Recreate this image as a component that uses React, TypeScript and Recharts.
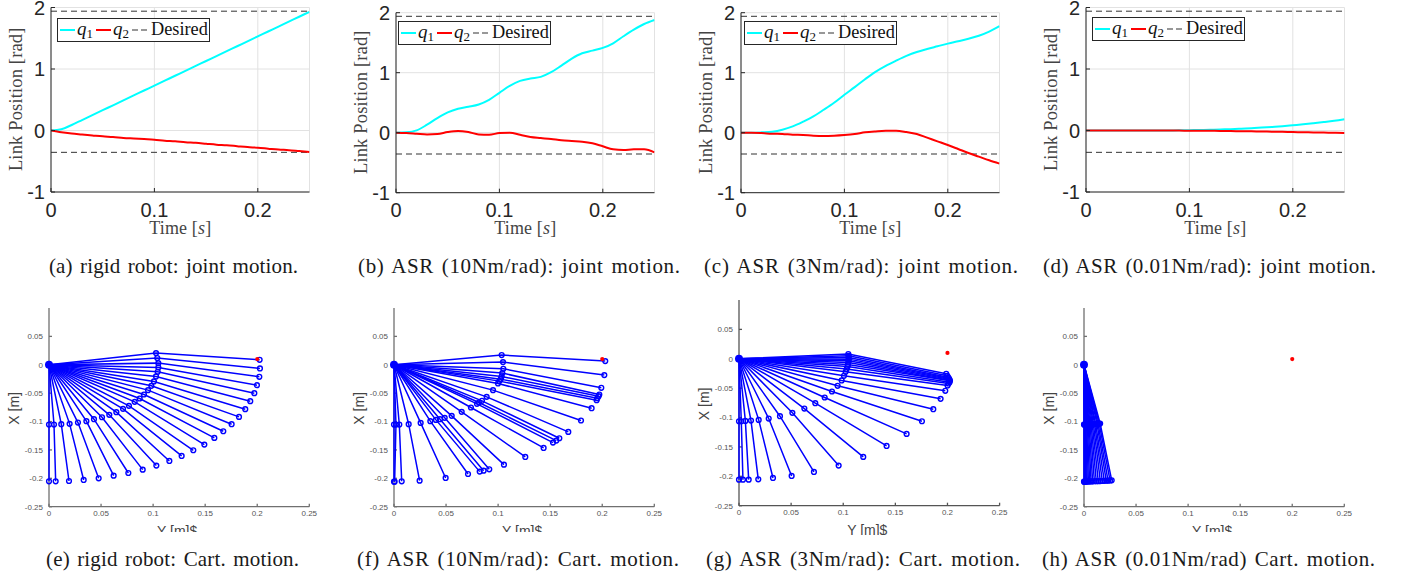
import React from "react";
import {
  LineChart, Line, XAxis, YAxis, CartesianGrid, ReferenceLine, Legend,
  ScatterChart, Scatter,
} from "recharts";

const time = [0, .01, .02, .03, .04, .05, .06, .07, .08, .09, .1, .11, .12, .13, .14, .15, .16, .17, .18, .19, .2, .21, .22, .23, .24, .25];
const desiredQ1 = 1.94;
const desiredQ2 = -0.355;

const aQ1 = [0, .02, .09, .17, .25, .33, .41, .49, .57, .65, .73, .81, .89, .97, 1.05, 1.13, 1.21, 1.29, 1.37, 1.45, 1.53, 1.61, 1.69, 1.77, 1.85, 1.93];
const aQ2 = [0, -.03, -.05, -.065, -.08, -.095, -.105, -.12, -.13, -.14, -.15, -.165, -.175, -.19, -.2, -.215, -.23, -.24, -.255, -.27, -.28, -.295, -.31, -.32, -.335, -.35];
const bQ1 = [0, .006, .039, .133, .244, .338, .399, .432, .471, .548, .665, .781, .864, .903, .93, 1.008, 1.119, 1.235, 1.324, 1.368, 1.413, 1.49, 1.607, 1.717, 1.812, 1.878];
const bQ2 = [0, -.006, -.017, -.028, -.022, .011, .028, .011, -.028, -.033, -.006, 0, -.033, -.072, -.089, -.105, -.127, -.139, -.15, -.177, -.227, -.277, -.288, -.277, -.277, -.327];
const cQ1 = [0, 0, .006, .017, .05, .105, .183, .271, .382, .499, .632, .759, .892, 1.014, 1.114, 1.2, 1.28, 1.345, 1.395, 1.44, 1.485, 1.525, 1.565, 1.615, 1.685, 1.775];
const cQ2 = [0, 0, -.006, -.017, -.022, -.033, -.039, -.05, -.055, -.05, -.039, -.022, .006, .022, .033, .033, .011, -.022, -.083, -.144, -.205, -.271, -.338, -.399, -.46, -.515];
const dQ1 = [0, 0, 0, 0, 0, 0, 0, 0, .001, .003, .005, .008, .012, .017, .022, .03, .038, .047, .058, .07, .085, .1, .118, .137, .158, .184];
const dQ2 = [0, 0, 0, 0, 0, 0, 0, 0, -.001, -.002, -.003, -.004, -.005, -.007, -.009, -.012, -.014, -.017, -.019, -.022, -.025, -.028, -.031, -.034, -.037, -.042];

const eElbowX = [.1028, .104, .105, .105, .1044, .1028, .1008, .0983, .0951, .0912, .0871, .0823, .0768, .0711, .0647, .0579, .0509, .0432, .0359, .0278, .0198, .0118, .0048, 0];
const eElbowY = [.0206, .0118, .0029, -.0047, -.0124, -.0206, -.0294, -.0371, -.0447, -.0524, -.0594, -.0653, -.0724, -.0776, -.0835, -.0882, -.0924, -.0959, -.0994, -.1018, -.1041, -.1047, -.1053, -.1053];
const eEndX = [.2023, .2026, .202, .1997, .1972, .1933, .1885, .1825, .1754, .1674, .1588, .1492, .1386, .1274, .1156, .1031, .09, .0762, .0621, .0477, .0333, .0192, .0064, 0];
const eEndY = [.0088, -.0065, -.0212, -.0359, -.05, -.0641, -.0782, -.0918, -.1047, -.1171, -.1288, -.1406, -.1506, -.1606, -.1694, -.1776, -.1847, -.1906, -.1953, -.2, -.2029, -.2047, -.2053, -.2053];

const fElbowX = [.1034, .1047, .105, .104, .1034, .1024, .1012, .0999, .0951, .089, .0845, .0816, .0797, .0739, .065, .0554, .0487, .0442, .0403, .0349, .0256, .0141, .0051, .0019, 0];
const fElbowY = [.0171, .0047, -.0071, -.0147, -.0206, -.0253, -.0288, -.0329, -.0447, -.0565, -.0635, -.0665, -.0688, -.0753, -.0829, -.09, -.0935, -.0959, -.0971, -.0994, -.1024, -.1047, -.1053, -.1053, -.1053];
const fEndX = [.2029, .202, .1991, .1972, .1965, .1953, .1946, .1898, .1796, .1674, .1588, .1559, .1527, .1437, .1261, .1056, .0915, .0861, .0823, .0711, .0496, .0246, .0074, .0006, 0];
const fEndY = [.0065, -.0182, -.0406, -.0524, -.0553, -.0588, -.0624, -.0765, -.0982, -.1182, -.1294, -.1335, -.1371, -.1465, -.1624, -.1759, -.1841, -.1865, -.1882, -.1924, -.1994, -.2041, -.2053, -.2059, -.2059];

const gElbowX = [.1049, .1052, .1052, .1052, .1052, .1049, .1045, .1042, .1033, .1023, .1007, .0985, .0946, .0892, .0822, .0732, .0627, .0512, .0393, .0285, .0189, .0115, .0061, .0022, 0];
const gElbowY = [.008, .0051, .0023, -.0006, -.0034, -.0063, -.0097, -.0131, -.0176, -.0222, -.029, -.0369, -.046, -.0557, -.0659, -.0756, -.0847, -.092, -.0977, -.1017, -.104, -.1051, -.1057, -.1063, -.1063];
const gEndX = [.1988, .1998, .2004, .2011, .2017, .202, .2024, .202, .2011, .2001, .1979, .1934, .1864, .1755, .1608, .1416, .1192, .0956, .0719, .0505, .0326, .0185, .0093, .0038, 0];
const gEndY = [-.0256, -.029, -.0313, -.033, -.0347, -.0364, -.0375, -.0398, -.042, -.0455, -.0545, -.0682, -.0858, -.1063, -.1278, -.1483, -.167, -.1818, -.1926, -.1994, -.2028, -.2051, -.2057, -.2057, -.2057];

const hElbowX = [.0155, .0146, .0135, .0125, .0112, .0102, .009, .0079, .0068, .0058, .0048, .004, .0032, .0025, .0018, .0013, .0008, .0005, .0002, 0];
const hElbowY = [-.1035, -.1037, -.1039, -.1041, -.1043, -.1045, -.1046, -.1047, -.1048, -.1049, -.105, -.1051, -.1051, -.1052, -.1052, -.1052, -.1053, -.1053, -.1053, -.1053];
const hEndX = [.0266, .025, .0231, .0214, .0195, .0176, .0157, .0137, .0118, .01, .0083, .0068, .0054, .0042, .0031, .0022, .0014, .0008, .0003, 0];
const hEndY = [-.2035, -.2038, -.2041, -.2043, -.2045, -.2047, -.2049, -.205, -.2051, -.2052, -.2053, -.2054, -.2055, -.2056, -.2057, -.2057, -.2058, -.2058, -.2059, -.2059];

const goalX = 0.2;
const goalY = 0.01;
const baseX = 0;
const baseY = 0;

const jointTicksX = [0, .1, .2];
const jointTicksY = [-1, 0, 1, 2];
const cartTicksX = [0, .05, .1, .15, .2, .25];
const cartTicksY = [-.25, -.2, -.15, -.1, -.05, 0, .05];

const captions = [
  { t: "(a) rigid robot: joint motion.", x: 49, w: 249, y: 273 },
  { t: "(b) ASR (10Nm/rad): joint motion.", x: 358, w: 322, y: 273 },
  { t: "(c) ASR (3Nm/rad): joint motion.", x: 704, w: 314, y: 273 },
  { t: "(d) ASR (0.01Nm/rad): joint motion.", x: 1043, w: 333, y: 273 },
  { t: "(e) rigid robot: Cart. motion.", x: 46, w: 253, y: 566 },
  { t: "(f) ASR (10Nm/rad): Cart. motion.", x: 357, w: 322, y: 566 },
  { t: "(g) ASR (3Nm/rad): Cart. motion.", x: 706, w: 314, y: 566 },
  { t: "(h) ASR (0.01Nm/rad) Cart. motion.", x: 1042, w: 333, y: 566 },
];

const SERIF = "'Liberation Serif', serif";
const SANS = "'Liberation Sans', sans-serif";
const DARK = "#262626";

function LegendBox({ w, h }: { w: number; h: number }) {
  return (
    <svg width={w} height={h} style={{ display: "block" }}>
      <rect x={0.5} y={0.5} width={w - 1} height={h - 1} fill="#fff" stroke={DARK} strokeWidth={1} />
      <line x1={3} x2={18} y1={12} y2={12} stroke="#00ffff" strokeWidth={2} />
      <text x={20} y={17} fontFamily={SERIF} fontSize={19} fill="#111">
        <tspan fontStyle="italic">q</tspan><tspan dy={3} fontSize={13}>1</tspan>
      </text>
      <line x1={39} x2={54} y1={12} y2={12} stroke="#ff0000" strokeWidth={2} />
      <text x={56} y={17} fontFamily={SERIF} fontSize={19} fill="#111">
        <tspan fontStyle="italic">q</tspan><tspan dy={3} fontSize={13}>2</tspan>
      </text>
      <line x1={75} x2={90} y1={12} y2={12} stroke="#333" strokeWidth={1.2} strokeDasharray="6 3" />
      <text x={94} y={17} fontFamily={SERIF} fontSize={18.3} fill="#111">Desired</text>
    </svg>
  );
}

function JointChart({ left, top, bottom, right, q1, q2, lx, ly }: any) {
  const data = time.map((t, i) => ({ t, q1: q1[i], q2: q2[i] }));
  const yW = 50;
  const w = right - left + yW + 12;
  const h = 240;
  const tickStyle = { fontSize: 20, fontFamily: SANS, fill: DARK };
  return (
    <div style={{ position: "absolute", left: left - yW, top: 0 }}>
      <LineChart width={w} height={h} data={data} margin={{ left: 0, right: 12, top, bottom: 0 }}>
        <CartesianGrid stroke="#e2e2e2" strokeWidth={1} />
        <XAxis dataKey="t" type="number" domain={[0, .25]} ticks={jointTicksX} interval={0} height={h - bottom}
          tick={tickStyle} tickSize={-4} tickMargin={15 - (bottom - 192)} stroke={DARK} allowDataOverflow
          label={(p: any) => {
            const v = p.viewBox;
            return (
              <text x={v.x + v.width / 2} y={234} textAnchor="middle" fontFamily={SERIF} fontSize={18} letterSpacing={0.15} fill="#444">
                Time [<tspan fontStyle="italic">s</tspan>]
              </text>
            );
          }} />
        <XAxis xAxisId="top" orientation="top" type="number" domain={[0, .25]} ticks={jointTicksX} interval={0} height={0}
          tick={tickStyle} tickFormatter={() => ""} tickSize={-4} stroke={DARK} />
        <YAxis type="number" domain={[-1, 2]} ticks={jointTicksY} interval={0} width={yW}
          tick={tickStyle} tickSize={-4} tickMargin={10} stroke={DARK} allowDataOverflow
          label={(p: any) => {
            const v = p.viewBox;
            const cy = v.y + v.height / 2 - 0.5;
            return (
              <text x={21} y={cy} transform={`rotate(-90 21 ${cy})`} textAnchor="middle" fontFamily={SERIF} fontSize={18.5} letterSpacing={0.15} fill="#444">
                Link Position [rad]
              </text>
            );
          }} />
        <YAxis yAxisId="right" orientation="right" type="number" domain={[-1, 2]} ticks={jointTicksY} interval={0} width={0}
          tick={tickStyle} tickFormatter={() => ""} tickSize={-4} stroke={DARK} />
        <ReferenceLine y={desiredQ1} stroke="#333" strokeWidth={1} strokeDasharray="6 4" />
        <ReferenceLine y={desiredQ2} stroke="#333" strokeWidth={1} strokeDasharray="6 4" />
        <Line dataKey="q1" type="monotone" stroke="#00ffff" strokeWidth={2} dot={false} isAnimationActive={false} />
        <Line dataKey="q2" type="monotone" stroke="#ff0000" strokeWidth={2} dot={false} isAnimationActive={false} />
        <Legend verticalAlign="middle" align="center" layout="horizontal"
          wrapperStyle={{ left: lx - left + yW, top: ly, width: 153, height: 24 }}
          content={() => <LegendBox w={153} h={24} />} />
      </LineChart>
    </div>
  );
}

const OpenCircle = (p: any) => (
  <circle cx={p.cx} cy={p.cy} r={2.4} fill="none" stroke="#0000ff" strokeWidth={1.4} />
);
const BaseDot = (p: any) => <circle cx={p.cx} cy={p.cy} r={4} fill="#0000ff" />;
const GoalDot = (p: any) => <circle cx={p.cx} cy={p.cy} r={2.1} fill="#ff0000" />;

function CartChart({ left, axisTop, axisBottom, right, clipBottom, axisColor, ex, ey, hx, hy }: any) {
  const yW = 49;
  const w = right - left + yW + 20;
  const h = clipBottom - (axisTop - 4);
  const tickStyle = { fontSize: 8, fontFamily: SANS, fill: "#555" };
  return (
    <div style={{ position: "absolute", left: left - yW, top: axisTop - 4 }}>
      <ScatterChart width={w} height={h} margin={{ left: 0, right: 20, top: 4, bottom: 0 }}>
        <XAxis dataKey="x" type="number" domain={[0, .25]} ticks={cartTicksX} interval={0} height={h - 4 - (axisBottom - axisTop)}
          tick={tickStyle} tickSize={-3} tickMargin={7} stroke={axisColor} strokeWidth={1.3}
          label={(p: any) => {
            const v = p.viewBox;
            return (
              <text x={v.x + v.width / 2 - 2} y={axisBottom - (axisTop - 4) + 29} textAnchor="middle" fontFamily={SANS} fontSize={14} fill="#444">
                Y [m]$
              </text>
            );
          }} />
        <YAxis dataKey="y" type="number" domain={[-.25, .1]} ticks={cartTicksY} interval={0} width={yW}
          tick={tickStyle} tickSize={-3} tickMargin={9} stroke={axisColor} strokeWidth={1.3}
          label={() => {
            const cy = 4 + (axisBottom - axisTop) * 0.505;
            return (
              <text x={19} y={cy} transform={`rotate(-90 19 ${cy})`} textAnchor="middle" fontFamily={SANS} fontSize={14} fill="#444">
                X [m]
              </text>
            );
          }} />
        {ex.map((_: number, i: number) => (
          <Scatter key={i} isAnimationActive={false}
            data={[{ x: baseX, y: baseY }, { x: ex[i], y: ey[i] }, { x: hx[i], y: hy[i] }]}
            line={{ stroke: "#0000ff", strokeWidth: 1.5 }} lineType="joint" shape={OpenCircle} />
        ))}
        <Scatter isAnimationActive={false} data={[{ x: baseX, y: baseY }]} shape={BaseDot} />
        <Scatter isAnimationActive={false} data={[{ x: goalX, y: goalY }]} shape={GoalDot} />
      </ScatterChart>
    </div>
  );
}

export default function App() {
  return (
    <div style={{ position: "absolute", left: 0, top: 0, width: 1404, height: 576, background: "#fff", overflow: "hidden" }}>
      <JointChart left={51} right={309.5} top={7.5} bottom={192} q1={aQ1} q2={aQ2} lx={57} ly={18} />
      <JointChart left={396} right={654.5} top={12.7} bottom={192.7} q1={bQ1} q2={bQ2} lx={398} ly={20.5} />
      <JointChart left={741} right={999.5} top={12.7} bottom={192.7} q1={cQ1} q2={cQ2} lx={744} ly={21} />
      <JointChart left={1086} right={1344.5} top={7.5} bottom={192} q1={dQ1} q2={dQ2} lx={1092} ly={17} />

      <CartChart left={49} right={309.3} axisTop={308} axisBottom={506.7} clipBottom={532} axisColor="#707070" ex={eElbowX} ey={eElbowY} hx={eEndX} hy={eEndY} />
      <CartChart left={394} right={654.3} axisTop={308} axisBottom={506.7} clipBottom={532} axisColor="#707070" ex={fElbowX} ey={fElbowY} hx={fEndX} hy={fEndY} />
      <CartChart left={739} right={999.6} axisTop={300} axisBottom={505.7} clipBottom={535} axisColor="#555" ex={gElbowX} ey={gElbowY} hx={gEndX} hy={gEndY} />
      <CartChart left={1084} right={1344.3} axisTop={308} axisBottom={506.7} clipBottom={532} axisColor="#707070" ex={hElbowX} ey={hElbowY} hx={hEndX} hy={hEndY} />

      <svg width={1404} height={576} style={{ position: "absolute", left: 0, top: 0, pointerEvents: "none" }}>
        {captions.map((c) => (
          <text key={c.t} x={c.x} y={c.y} textLength={c.w} lengthAdjust="spacing" fontFamily={SERIF} fontSize={21} wordSpacing={2} fill="#1a1a1a">
            {c.t}
          </text>
        ))}
      </svg>
    </div>
  );
}
